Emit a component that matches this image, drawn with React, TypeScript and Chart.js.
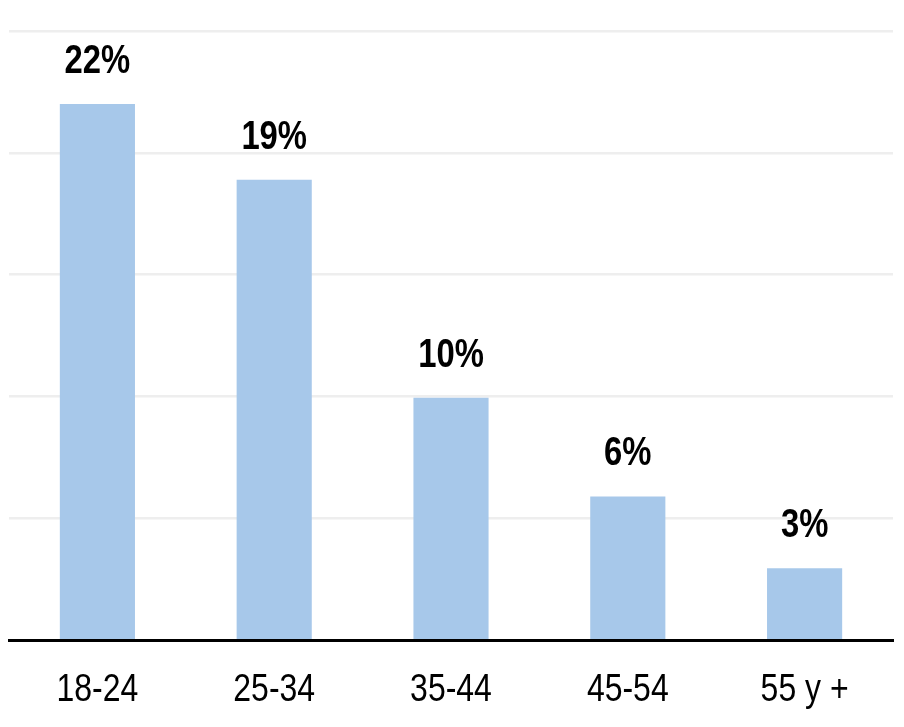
import React, { useEffect, useRef } from "react";
import { Chart, registerables } from "chart.js";

Chart.register(...registerables);

const categories = ["18-24", "25-34", "35-44", "45-54", "55 y +"];
const values = [22.0, 18.9, 9.95, 5.9, 2.95];
const valueLabels = ["22%", "19%", "10%", "6%", "3%"];

const FONT = '"Liberation Sans", Arial, sans-serif';
const NARROW = 0.82;

const narrowTextPlugin = {
  id: "narrowText",
  afterDraw(chart: any) {
    const ctx = chart.ctx;
    const meta = chart.getDatasetMeta(0);
    const xs = chart.scales.x;
    ctx.save();
    ctx.fillStyle = "#000000";
    ctx.textAlign = "center";
    ctx.textBaseline = "middle";
    ctx.font = `bold 40px ${FONT}`;
    meta.data.forEach((el: any, i: number) => {
      ctx.save();
      ctx.translate(el.x, el.y - 42);
      ctx.scale(NARROW, 1);
      ctx.fillText(valueLabels[i], 0, 0);
      ctx.restore();
    });
    ctx.font = `39px ${FONT}`;
    categories.forEach((c, i) => {
      ctx.save();
      ctx.translate(xs.getPixelForTick(i), xs.top + 50);
      ctx.scale(NARROW, 1);
      ctx.fillText(c, 0, 0);
      ctx.restore();
    });
    ctx.restore();
  },
};

export default function App() {
  const ref = useRef<HTMLCanvasElement | null>(null);
  useEffect(() => {
    if (!ref.current) return;
    const chart = new Chart(ref.current, {
      type: "bar",
      data: {
        labels: categories,
        datasets: [
          {
            data: values,
            backgroundColor: "#A7C8EA",
            borderWidth: 0,
            barPercentage: 0.425,
            categoryPercentage: 1,
          },
        ],
      },
      options: {
        responsive: false,
        animation: false,
        layout: { padding: { left: 9, right: 11, top: 31, bottom: 0 } },
        plugins: { legend: { display: false }, tooltip: { enabled: false } },
        scales: {
          x: {
            grid: { display: false },
            border: { display: true, color: "#000000", width: 3 },
            ticks: {
              color: "rgba(0,0,0,0)",
              font: { family: FONT, size: 39 },
              padding: 16,
              maxRotation: 0,
            },
          },
          y: {
            min: 0,
            max: 25,
            ticks: { display: false, stepSize: 5 },
            border: { display: false },
            grid: { color: "#EEEEEE", lineWidth: 2.5, drawTicks: false },
          },
        },
      },
      plugins: [narrowTextPlugin],
    });
    return () => chart.destroy();
  }, []);
  return (
    <div style={{ position: "fixed", left: 0, top: 0, width: 904, height: 727, background: "#fff" }}>
      <canvas ref={ref} width={904} height={727} style={{ width: 904, height: 727 }} />
    </div>
  );
}
